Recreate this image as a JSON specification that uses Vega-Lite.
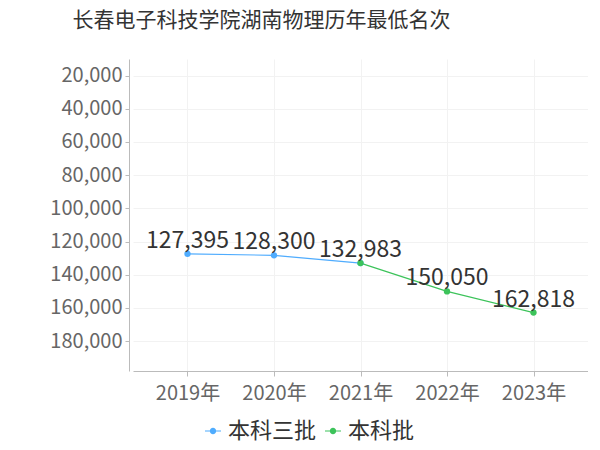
{
  "$schema": "https://vega.github.io/schema/vega-lite/v6.json",
  "width": 455,
  "height": 312,
  "padding": {"left": 49, "top": 10, "right": 0, "bottom": 8},
  "autosize": {"type": "pad"},
  "title": {"text": "长春电子科技学院湖南物理历年最低名次", "fontSize": 21, "font": "Noto Sans CJK SC", "fontWeight": "normal", "color": "#333333", "anchor": "middle", "dx": -99, "offset": 28},
  "config": {"view": {"stroke": null}, "font": "Noto Sans CJK SC"},
  "datasets": {
    "rows": [
      {"year": "2019年", "batch": "本科三批", "rank": 127395, "show": true},
      {"year": "2020年", "batch": "本科三批", "rank": 128300, "show": true},
      {"year": "2021年", "batch": "本科三批", "rank": 132983, "show": false},
      {"year": "2021年", "batch": "本科批", "rank": 132983, "show": true},
      {"year": "2022年", "batch": "本科批", "rank": 150050, "show": true},
      {"year": "2023年", "batch": "本科批", "rank": 162818, "show": true}
    ]
  },
  "data": {"name": "rows"},
  "encoding": {
    "x": {"field": "year", "type": "ordinal", "scale": {"type": "point", "padding": 0.63},
      "axis": {"title": null, "labelAngle": 0, "labelFontSize": 20, "labelColor": "#666666", "domainColor": "#bbbbbb", "tickColor": "#bbbbbb", "tickSize": 5, "labelPadding": 7, "gridColor": "#f2f2f2", "grid": true}},
    "y": {"field": "rank", "type": "quantitative", "scale": {"domain": [10000, 198000], "reverse": true, "nice": false, "zero": false},
      "axis": {"title": null, "values": [20000, 40000, 60000, 80000, 100000, 120000, 140000, 160000, 180000], "format": ",d", "labelFontSize": 20, "labelColor": "#666666", "domainColor": "#bbbbbb", "tickColor": "#bbbbbb", "tickSize": 4, "offset": 4, "gridColor": "#f2f2f2", "labelPadding": 3}},
    "color": {"field": "batch", "type": "nominal", "sort": ["本科三批", "本科批"], "scale": {"domain": ["本科三批", "本科批"], "range": ["#4facfe", "#3cc35a"]},
      "legend": {"title": null, "orient": "none", "legendX": 69, "legendY": 361, "direction": "horizontal", "labelFontSize": 22, "labelColor": "#333333",
        "symbolType": "M-1,-0.07H1V0.07H-1Z M0.4,0A0.4,0.4 0 1 1 -0.4,0A0.4,0.4 0 1 1 0.4,0Z", "symbolSize": 256, "symbolStrokeWidth": 0, "columnPadding": 5, "labelOffset": 4,
        "encode": {"symbols": {"update": {"fill": {"scale": "color", "field": "value"}, "strokeWidth": {"value": 0}}}}}}
  },
  "layer": [
    {"mark": {"type": "line", "strokeWidth": 1.2, "point": {"filled": true, "size": 40}}},
    {"transform": [{"filter": "datum.show"}], "mark": {"type": "text", "fontSize": 23, "color": "#333333", "dy": -13}, "encoding": {"text": {"field": "rank", "type": "quantitative", "format": ","}, "color": {"value": "#333333"}}}
  ]
}
